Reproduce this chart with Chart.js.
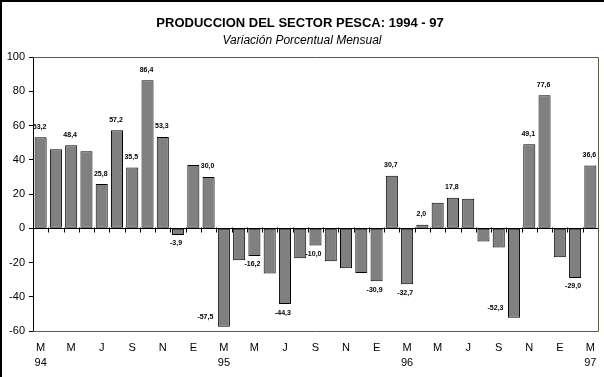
<!DOCTYPE html>
<html>
<head>
<meta charset="utf-8">
<script src="https://cdn.jsdelivr.net/npm/chart.js@4/dist/chart.umd.min.js"></script>
<style>
html,body{margin:0;padding:0;background:#fff;}
#wrap{position:relative;width:604px;height:377px;}
canvas{display:block;}
</style>
</head>
<body>
<div id="wrap"><canvas id="c" width="604" height="377"></canvas></div>
<script>
// Months from March 1994 to March 1997
const categories = [
  "Mar 94","Abr 94","May 94","Jun 94","Jul 94","Ago 94","Sep 94","Oct 94","Nov 94","Dic 94",
  "Ene 95","Feb 95","Mar 95","Abr 95","May 95","Jun 95","Jul 95","Ago 95","Sep 95","Oct 95","Nov 95","Dic 95",
  "Ene 96","Feb 96","Mar 96","Abr 96","May 96","Jun 96","Jul 96","Ago 96","Sep 96","Oct 96","Nov 96","Dic 96",
  "Ene 97","Feb 97","Mar 97"
];
const values = [
  53.2, 46.1, 48.4, 44.9, 25.8, 57.2, 35.5, 86.4, 53.3, -3.9,
  37.0, 30.0, -57.5, -18.7, -16.2, -26.4, -44.3, -17.5, -10.0, -19.3, -23.3, -26.2,
  -30.9, 30.7, -32.7, 2.0, 14.9, 17.8, 17.2, -7.7, -11.2, -52.3, 49.1, 77.6,
  -17.0, -29.0, 36.6
];
const valueLabels = [
  "53,2","","48,4","","25,8","57,2","35,5","86,4","53,3","-3,9",
  "","30,0","-57,5","","-16,2","","-44,3","","-10,0","","","",
  "-30,9","30,7","-32,7","2,0","","17,8","","","","-52,3","49,1","77,6",
  "","-29,0","36,6"
];
const tickLabels = [
  ["M","94"],"","M","","J","","S","","N","",
  "E","",["M","95"],"","M","","J","","S","","N","",
  "E","",["M","96"],"","M","","J","","S","","N","",
  "E","",["M","97"]
];
const yTicks = [-60,-40,-20,0,20,40,60,80,100];
const titleText = "PRODUCCION DEL SECTOR PESCA: 1994 - 97";
const subtitleText = "Variación Porcentual Mensual";

const decor = {
  id: 'decor',
  beforeDraw(chart) {
    const ctx = chart.ctx;
    ctx.save();
    ctx.fillStyle = '#fff';
    ctx.fillRect(0, 0, chart.width, chart.height);
    // outer frame (top & left)
    ctx.fillStyle = '#000';
    ctx.fillRect(0, 0, chart.width, 2);
    ctx.fillRect(0, 0, 2, chart.height);
    // titles
    ctx.textAlign = 'center';
    ctx.textBaseline = 'middle';
    ctx.font = 'bold 13px "Liberation Sans", Arial, sans-serif';
    ctx.fillText(titleText, 300, 23);
    ctx.font = 'italic 12px "Liberation Sans", Arial, sans-serif';
    ctx.fillText(subtitleText, 302, 40.5);
    ctx.restore();
  },
  afterDatasetsDraw(chart) {
    const ctx = chart.ctx;
    const a = chart.chartArea;
    const x = chart.scales.x, y = chart.scales.y;
    ctx.save();
    // plot frame top/right/bottom
    ctx.strokeStyle = '#5c5c3a';
    ctx.lineWidth = 1;
    ctx.beginPath();
    ctx.moveTo(a.left, Math.round(a.top) + 0.5);
    ctx.lineTo(Math.round(a.right) + 0.5, Math.round(a.top) + 0.5);
    ctx.lineTo(Math.round(a.right) + 0.5, Math.round(a.bottom) + 0.5);
    ctx.lineTo(a.left, Math.round(a.bottom) + 0.5);
    ctx.stroke();
    // zero line with tick marks at category boundaries
    const y0 = Math.round(y.getPixelForValue(0)) + 0.5;
    ctx.strokeStyle = '#000';
    ctx.beginPath();
    ctx.moveTo(a.left, y0);
    ctx.lineTo(a.right, y0);
    const n = categories.length;
    const step = (a.right - a.left) / n;
    for (let i = 1; i < n; i++) {
      const xx = Math.round(a.left + i * step) + 0.5;
      ctx.moveTo(xx, y0 - 1);
      ctx.lineTo(xx, y0 + 4);
    }
    ctx.stroke();
    // value labels
    const meta = chart.getDatasetMeta(0);
    ctx.fillStyle = '#000';
    ctx.font = 'bold 7px "Liberation Sans", Arial, sans-serif';
    ctx.textAlign = 'center';
    ctx.textBaseline = 'middle';
    meta.data.forEach((bar, i) => {
      const t = valueLabels[i];
      if (!t) return;
      const v = values[i];
      const cx = bar.x;
      if (v >= 0) {
        ctx.fillText(t, cx - 1, bar.y - 10.5);
      } else {
        if (bar.y + 14 > a.bottom) {
          ctx.fillText(t, cx - 18.5, bar.y - 10);
        } else {
          ctx.fillText(t, cx - 2, bar.y + 8.5);
        }
      }
    });
    ctx.restore();
  }
};

new Chart(document.getElementById('c'), {
  type: 'bar',
  data: {
    labels: categories,
    datasets: [{
      data: values,
      backgroundColor: '#808080',
      borderColor: '#000',
      borderWidth: 1,
      borderSkipped: false,
      barPercentage: 0.79,
      categoryPercentage: 1.0
    }]
  },
  options: {
    responsive: false,
    animation: false,
    devicePixelRatio: 1,
    layout: { padding: { top: 57, right: 6, left: 0, bottom: 0 } },
    plugins: { legend: { display: false }, title: { display: false }, tooltip: { enabled: false } },
    scales: {
      x: {
        grid: { display: false },
        border: { display: false },
        ticks: {
          autoSkip: false,
          maxRotation: 0,
          padding: 1,
          color: '#000',
          font: { family: '"Liberation Sans", Arial, sans-serif', size: 11, lineHeight: 1.4 },
          callback: (v, i) => tickLabels[i]
        },
        afterFit: s => { s.height = 46; }
      },
      y: {
        min: -60, max: 100,
        afterBuildTicks: s => { s.ticks = yTicks.map(v => ({ value: v })); },
        grid: { drawOnChartArea: false, drawTicks: true, tickLength: 4, color: '#000' },
        border: { display: true, color: '#000' },
        ticks: {
          padding: 4,
          color: '#000',
          font: { family: '"Liberation Sans", Arial, sans-serif', size: 11 }
        },
        afterFit: s => { s.width = 33; }
      }
    }
  },
  plugins: [decor]
});
</script>
</body>
</html>
